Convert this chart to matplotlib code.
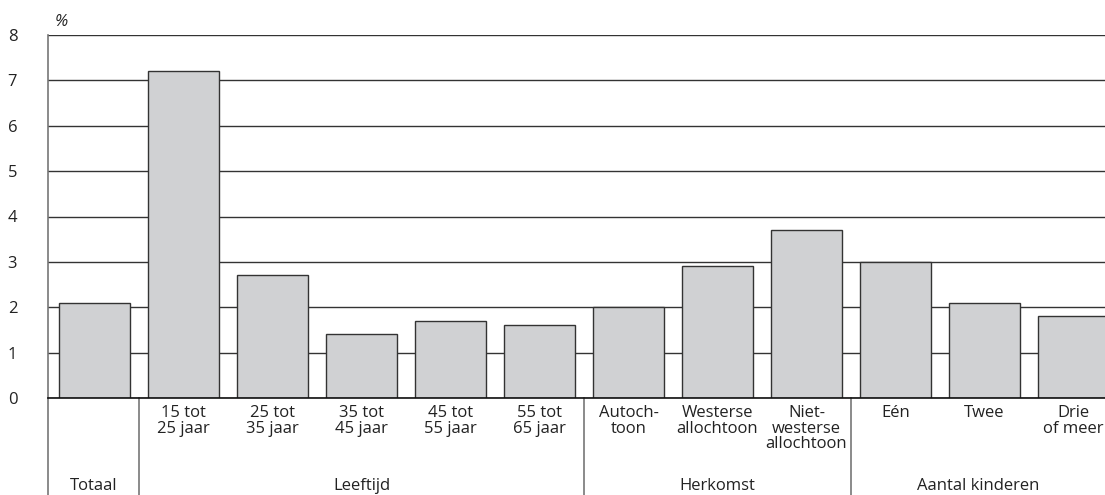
import numpy as np
import matplotlib
matplotlib.use("Agg")
from matplotlib import pyplot as plt

# Data
categories = ["", "15 tot\n25 jaar", "25 tot\n35 jaar", "35 tot\n45 jaar",
              "45 tot\n55 jaar", "55 tot\n65 jaar", "Autoch-\ntoon",
              "Westerse\nallochtoon", "Niet-\nwesterse\nallochtoon",
              "Eén", "Twee", "Drie\nof meer"]
values = [2.1, 7.2, 2.7, 1.4, 1.7, 1.6, 2.0, 2.9, 3.7, 3.0, 2.1, 1.8]
groups = ["Totaal", "Leeftijd", "Herkomst", "Aantal kinderen"]
group_bounds = [0.5, 5.5, 8.5]  # separator positions between groups
yticks = [0, 1, 2, 3, 4, 5, 6, 7, 8]

plt.rcParams['font.family'] = ['Open Sans', 'DejaVu Sans']

fig = plt.figure(figsize=(11.05, 4.95), dpi=100)
ax = fig.add_axes([48 / 1105, 1 - 398 / 495, 1 - 48 / 1105, 363 / 495])

x = np.arange(len(values))
ax.bar(x, values, width=0.8, color="#d0d1d3", edgecolor="#333333", linewidth=1, zorder=3)

xmin, xmax = -0.522, 11.354
ax.set_xlim(xmin, xmax)
ax.set_ylim(0, 8)
ax.set_yticks(yticks)
ax.tick_params(axis="y", length=0, pad=29, labelsize=12, colors="#222222")
for lbl in ax.get_yticklabels():
    lbl.set_horizontalalignment("left")
ax.set_xticks([])

ax.yaxis.grid(True, color="#333333", linewidth=1, zorder=0)
ax.set_axisbelow(True)
for s in ["top", "right"]:
    ax.spines[s].set_visible(False)
ax.spines["left"].set_color("#777777")
ax.spines["left"].set_linewidth(1.2)
ax.spines["bottom"].set_color("#111111")
ax.spines["bottom"].set_linewidth(1.2)
ax.spines["bottom"].set_zorder(4)

trans = ax.get_xaxis_transform()
bottom = -(495 - 398) / 363

# separators below axis
for b in [xmin] + group_bounds:
    ax.plot([b, b], [0, bottom], color="#777777", lw=1.2, transform=trans, clip_on=False)

# category labels
for xi, c in zip(x, categories):
    ax.text(xi, -0.02, c, transform=trans, ha="center", va="top",
            fontsize=12, linespacing=0.95, color="#222222")

# group labels (kept just inside the bottom edge)
edges = [xmin] + group_bounds + [xmax]
for i, g in enumerate(groups):
    ax.text((edges[i] + edges[i + 1]) / 2, -(494 - 398) / 363, g, transform=trans,
            ha="center", va="bottom", fontsize=12, color="#222222")

fig.text(55 / 1105, 1 - 30 / 495, "%", fontsize=12, style="italic",
         ha="left", va="bottom", color="#222222")

fig.savefig("out.png", dpi=100)
